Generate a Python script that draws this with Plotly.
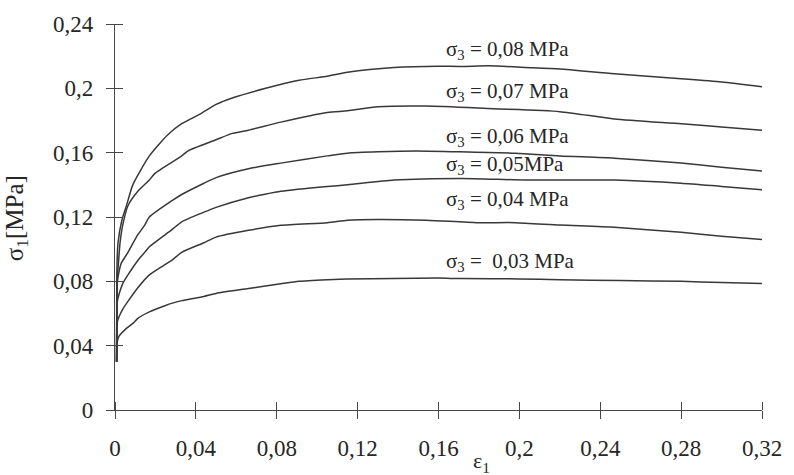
import plotly.graph_objects as go

# Triaxial test curves: major principal stress vs axial strain for each confining pressure
confining = ["0,03", "0,04", "0,05", "0,06", "0,07", "0,08"]

eps_003 = [0.0008, 0.0012, 0.002, 0.005, 0.009, 0.0113, 0.017, 0.025, 0.028, 0.033, 0.044, 0.05, 0.066, 0.0735,
           0.082, 0.091, 0.105, 0.115, 0.138, 0.16, 0.171, 0.2, 0.22, 0.25, 0.28, 0.30, 0.32]
sig_003 = [0.030, 0.043, 0.046, 0.050, 0.054, 0.057, 0.061, 0.065, 0.0663, 0.068, 0.0706, 0.0725, 0.0755, 0.077,
           0.0785, 0.080, 0.081, 0.0815, 0.0817, 0.082, 0.0817, 0.0815, 0.081, 0.0805, 0.080, 0.0792, 0.0786]

eps_004 = [0.0008, 0.0012, 0.002, 0.004, 0.0064, 0.0113, 0.017, 0.028, 0.033, 0.044, 0.05, 0.066, 0.082, 0.105,
           0.115, 0.13, 0.154, 0.179, 0.198, 0.22, 0.247, 0.28, 0.30, 0.32]
sig_004 = [0.030, 0.055, 0.058, 0.063, 0.0675, 0.076, 0.084, 0.093, 0.098, 0.104, 0.1075, 0.1117, 0.1148, 0.1165,
           0.118, 0.1185, 0.118, 0.1165, 0.1165, 0.115, 0.1136, 0.1105, 0.108, 0.106]

eps_005 = [0.0008, 0.0012, 0.002, 0.004, 0.0064, 0.0113, 0.0147, 0.017, 0.028, 0.033, 0.044, 0.05, 0.066, 0.0735,
           0.082, 0.105, 0.115, 0.138, 0.171, 0.203, 0.247, 0.28, 0.30, 0.32]
sig_005 = [0.030, 0.068, 0.072, 0.079, 0.084, 0.093, 0.098, 0.1015, 0.112, 0.117, 0.123, 0.126, 0.132, 0.134,
           0.136, 0.139, 0.140, 0.143, 0.144, 0.143, 0.143, 0.141, 0.139, 0.137]

eps_006 = [0.0008, 0.0012, 0.002, 0.003, 0.0064, 0.0113, 0.0147, 0.017, 0.028, 0.033, 0.044, 0.05, 0.066, 0.082,
           0.105, 0.115, 0.13, 0.149, 0.17, 0.198, 0.22, 0.247, 0.28, 0.30, 0.32]
sig_006 = [0.030, 0.080, 0.086, 0.091, 0.098, 0.109, 0.115, 0.120, 0.130, 0.134, 0.141, 0.1445, 0.150, 0.1535,
           0.158, 0.1597, 0.1605, 0.161, 0.1605, 0.1597, 0.158, 0.1566, 0.1535, 0.151, 0.1486]

eps_007 = [0.0008, 0.0012, 0.0015, 0.0025, 0.004, 0.0064, 0.0113, 0.017, 0.0196, 0.033, 0.036, 0.05, 0.058, 0.066,
           0.082, 0.105, 0.115, 0.13, 0.154, 0.187, 0.22, 0.247, 0.28, 0.30, 0.32]
sig_007 = [0.030, 0.085, 0.088, 0.104, 0.116, 0.127, 0.136, 0.143, 0.147, 0.158, 0.161, 0.168, 0.172, 0.174,
           0.179, 0.185, 0.186, 0.1885, 0.189, 0.1873, 0.1855, 0.181, 0.178, 0.176, 0.174]

eps_008 = [0.0008, 0.0010, 0.0015, 0.0034, 0.0059, 0.0088, 0.017, 0.026, 0.033, 0.042, 0.05, 0.058, 0.0745, 0.091,
           0.105, 0.115, 0.138, 0.16, 0.171, 0.185, 0.203, 0.22, 0.247, 0.28, 0.30, 0.32]
sig_008 = [0.030, 0.090, 0.104, 0.118, 0.128, 0.140, 0.158, 0.171, 0.178, 0.184, 0.190, 0.194, 0.200, 0.205,
           0.2075, 0.210, 0.213, 0.2138, 0.2136, 0.2140, 0.213, 0.212, 0.209, 0.206, 0.204, 0.201]

# Curve labels: text and anchor position (strain, stress)
label_text = ["σ<sub>3</sub> =&nbsp; 0,03 MPa", "σ<sub>3</sub> = 0,04 MPa", "σ<sub>3</sub> = 0,05MPa",
              "σ<sub>3</sub> = 0,06 MPa", "σ<sub>3</sub> = 0,07 MPa", "σ<sub>3</sub> = 0,08 MPa"]
label_x = [0.1627, 0.1627, 0.1627, 0.1627, 0.1627, 0.1627]
label_y = [0.092, 0.1308, 0.1523, 0.170, 0.1977, 0.224]

x_ticks = [0, 0.04, 0.08, 0.12, 0.16, 0.2, 0.24, 0.28, 0.32]
x_tick_text = ["0", "0,04", "0,08", "0,12", "0,16", "0,2", "0,24", "0,28", "0,32"]
y_ticks = [0, 0.04, 0.08, 0.12, 0.16, 0.2, 0.24]
y_tick_text = ["0", "0,04", "0,08", "0,12", "0,16", "0,2", "0,24"]

series = [(eps_003, sig_003), (eps_004, sig_004), (eps_005, sig_005),
          (eps_006, sig_006), (eps_007, sig_007), (eps_008, sig_008)]

FONT = "Liberation Serif, Times New Roman, serif"
TEXT = "#262626"
LINE = "#383838"
AXIS = "#474747"


def inward_positions(ticks):
    # the inward half of each tick is drawn as a minor tick nudged a hair off the major value,
    # so that it is not merged away with the major tick it sits on
    top = max(ticks)
    return [t - 1e-7 if t == top else t + 1e-7 for t in ticks]


fig = go.Figure()
for (ex, sy), name in zip(series, confining):
    fig.add_trace(go.Scatter(x=ex, y=sy, mode="lines", name=name,
                             line=dict(color=LINE, width=1.5, shape="spline", smoothing=0.6),
                             showlegend=False, hoverinfo="skip"))

for txt, lx, ly in zip(label_text, label_x, label_y):
    fig.add_annotation(x=lx, y=ly, text=txt, showarrow=False, xanchor="left", yanchor="middle",
                       font=dict(family=FONT, size=21, color=TEXT))

fig.add_annotation(x=-0.152, y=0.496, xref="paper", yref="paper", text="σ<sub>1</sub>[MPa]",
                   textangle=-90, showarrow=False, xanchor="center", yanchor="middle",
                   font=dict(family=FONT, size=25, color=TEXT))
fig.add_annotation(x=0.1815, y=0.0, yref="paper", yshift=-52, text="ε<sub>1</sub>",
                   showarrow=False, xanchor="center", yanchor="middle",
                   font=dict(family=FONT, size=22, color=TEXT))

common = dict(showgrid=False, zeroline=False, linecolor=AXIS, linewidth=1.3,
              tickcolor=AXIS, tickwidth=1.3, ticklen=8, showline=True, ticks="outside")

fig.update_layout(
    width=794, height=475,
    margin=dict(l=115, r=26, t=19, b=65),
    paper_bgcolor="white", plot_bgcolor="white",
    xaxis=dict(range=[0, 0.32], tickvals=x_ticks, ticktext=x_tick_text, ticklabelstandoff=9,
               tickfont=dict(family=FONT, size=23, color=TEXT),
               minor=dict(tickmode="array", tickvals=inward_positions(x_ticks), ticks="inside",
                          ticklen=8, tickwidth=1.3, tickcolor=AXIS, showgrid=False),
               **common),
    yaxis=dict(range=[0, 0.24], tickvals=y_ticks, ticktext=y_tick_text, ticklabelstandoff=8,
               tickfont=dict(family=FONT, size=23, color=TEXT),
               minor=dict(tickmode="array", tickvals=inward_positions(y_ticks), ticks="inside",
                          ticklen=8, tickwidth=1.3, tickcolor=AXIS, showgrid=False),
               **common),
)

fig.write_html("out.html")
